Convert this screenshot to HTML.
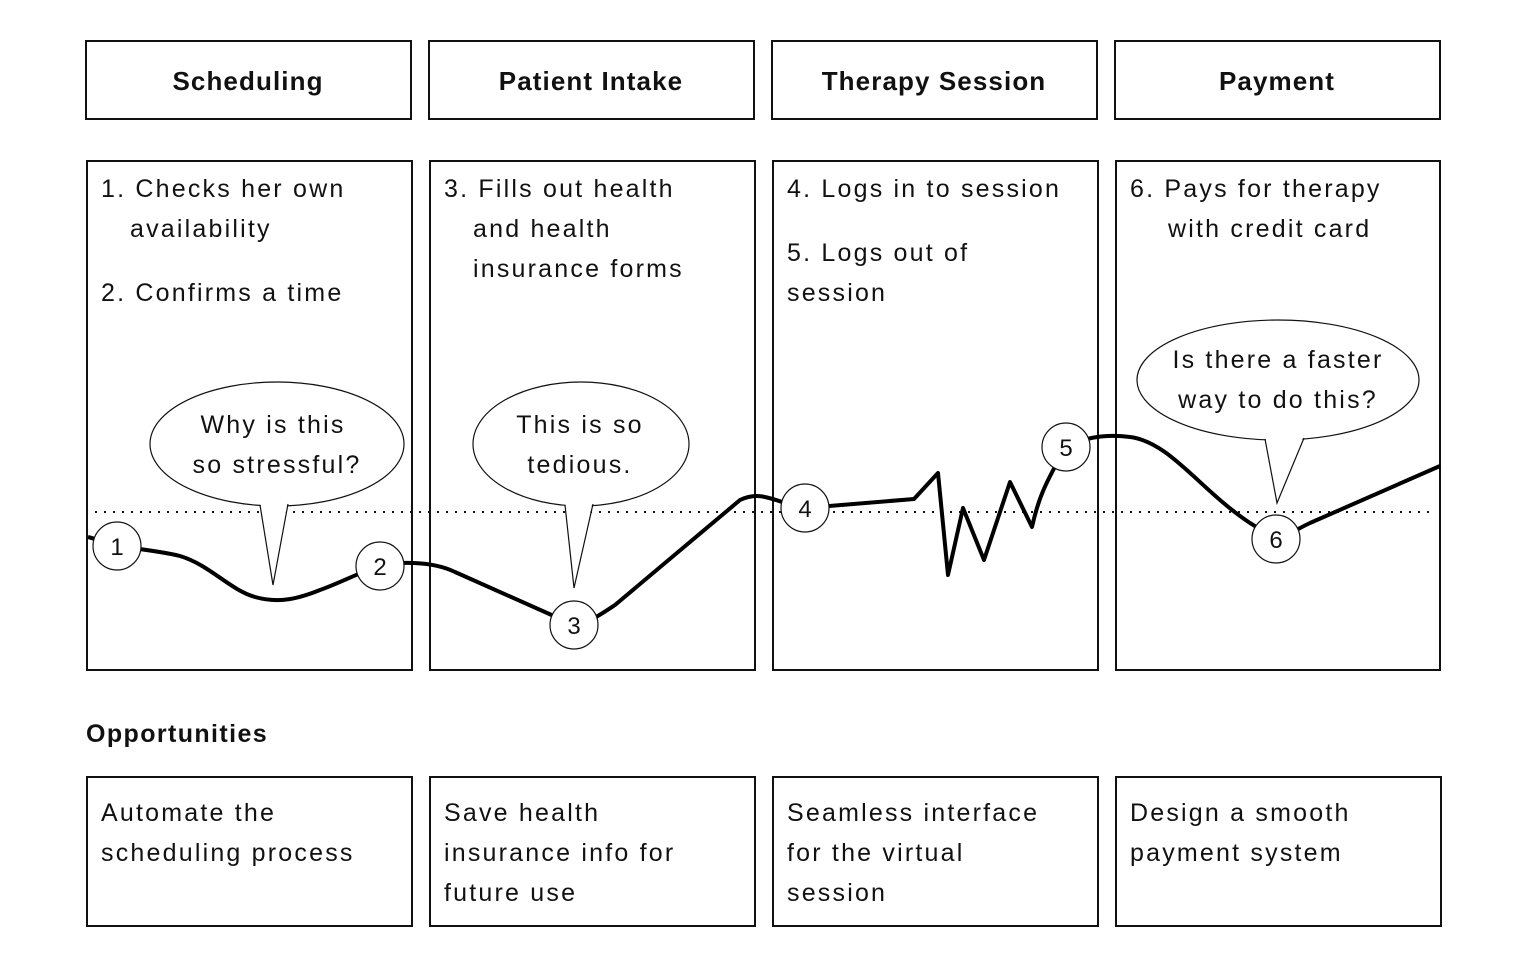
<!DOCTYPE html>
<html><head><style>
body{margin:0;background:#fff;}
svg{display:block;}
text{font-family:"Liberation Sans",sans-serif;fill:#111;}
.t{font-size:25px;letter-spacing:2.2px;}
.h{font-size:26px;font-weight:bold;text-anchor:middle;letter-spacing:1.1px;}
</style></head><body>
<svg width="1526" height="968" viewBox="0 0 1526 968" xmlns="http://www.w3.org/2000/svg">
<g fill="none" stroke="#111" stroke-width="2">
<rect x="86" y="41" width="325" height="78"/><rect x="429" y="41" width="325" height="78"/>
<rect x="772" y="41" width="325" height="78"/><rect x="1115" y="41" width="325" height="78"/>
<rect x="87" y="161" width="325" height="509"/><rect x="430" y="161" width="325" height="509"/>
<rect x="773" y="161" width="325" height="509"/><rect x="1116" y="161" width="324" height="509"/>
<rect x="87" y="777" width="325" height="149"/><rect x="430" y="777" width="325" height="149"/>
<rect x="773" y="777" width="325" height="149"/><rect x="1116" y="777" width="325" height="149"/>
</g>
<text class="h" x="248" y="90">Scheduling</text>
<text class="h" x="591" y="90">Patient Intake</text>
<text class="h" x="934" y="90">Therapy Session</text>
<text class="h" x="1277" y="90">Payment</text>
<g>
<text x="101" y="197" class="t">1. Checks her own</text>
<text x="130" y="237" class="t">availability</text>
<text x="101" y="301" class="t">2. Confirms a time</text>
<text x="444" y="197" class="t">3. Fills out health</text>
<text x="473" y="237" class="t">and health</text>
<text x="473" y="277" class="t">insurance forms</text>
<text x="787" y="197" class="t">4. Logs in to session</text>
<text x="787" y="261" class="t">5. Logs out of</text>
<text x="787" y="301" class="t">session</text>
<text x="1130" y="197" class="t">6. Pays for therapy</text>
<text x="1168" y="237" class="t">with credit card</text>
<text x="101" y="821" class="t">Automate the</text>
<text x="101" y="861" class="t">scheduling process</text>
<text x="444" y="821" class="t">Save health</text>
<text x="444" y="861" class="t">insurance info for</text>
<text x="444" y="901" class="t">future use</text>
<text x="787" y="821" class="t">Seamless interface</text>
<text x="787" y="861" class="t">for the virtual</text>
<text x="787" y="901" class="t">session</text>
<text x="1130" y="821" class="t">Design a smooth</text>
<text x="1130" y="861" class="t">payment system</text>
</g>
<text x="86" y="742" style="font-size:25px;font-weight:bold;letter-spacing:1.4px">Opportunities</text>
<line x1="95" y1="512" x2="1436" y2="512" stroke="#111" stroke-width="2" stroke-dasharray="2,7"/>
<path d="M88,537 C100,540 110,545 117,546 C140,549 165,552 180,556 C210,565 230,590 255,597 C280,604 300,598 320,590 C340,583 360,572 380,566 C395,562 430,560 455,572 L574,625 C590,622 600,615 615,605 L740,500 C755,493 765,496 785,503 L805,508 L914,499 L938,473 L948,575 L963,508 L984,560 L1010,482 L1032,527 C1038,500 1044,485 1066,447 C1080,440 1100,433 1130,437 C1170,442 1200,490 1250,523 L1276,539 C1290,535 1295,530 1310,523 L1440,466" fill="none" stroke="#000" stroke-width="4" stroke-linejoin="round"/>
<g stroke="#111" stroke-width="1.2">
<ellipse cx="277" cy="444" rx="127" ry="62" fill="#fff"/>
<polygon points="260,500 288,500 273,585" fill="#fff" stroke="none"/>
<polyline points="260,505 273,585 288,504" fill="none"/>
<ellipse cx="581" cy="444" rx="108" ry="62" fill="#fff"/>
<polygon points="565,500 593,500 574,588" fill="#fff" stroke="none"/>
<polyline points="565,505 574,588 593,504" fill="none"/>
<ellipse cx="1278" cy="380" rx="141" ry="60" fill="#fff"/>
<polygon points="1265,435 1304,435 1277,503" fill="#fff" stroke="none"/>
<polyline points="1265,439 1277,503 1304,438" fill="none"/>
</g>
<g text-anchor="middle">
<text x="273" y="433" class="t">Why is this</text>
<text x="277" y="473" class="t">so stressful?</text>
<text x="580" y="433" class="t">This is so</text>
<text x="580" y="473" class="t">tedious.</text>
<text x="1278" y="368" class="t">Is there a faster</text>
<text x="1278" y="408" class="t">way to do this?</text>
</g>
<g fill="#fff" stroke="#111" stroke-width="1.2">
<circle cx="117" cy="546" r="24"/><circle cx="380" cy="566" r="24"/>
<circle cx="574" cy="625" r="24"/><circle cx="805" cy="508" r="24"/>
<circle cx="1066" cy="447" r="24"/><circle cx="1276" cy="539" r="24"/>
</g>
<g text-anchor="middle" style="font-size:24px">
<text x="117" y="555" style="font-size:24px">1</text>
<text x="380" y="575" style="font-size:24px">2</text>
<text x="574" y="634" style="font-size:24px">3</text>
<text x="805" y="517" style="font-size:24px">4</text>
<text x="1066" y="456" style="font-size:24px">5</text>
<text x="1276" y="548" style="font-size:24px">6</text>
</g>
</svg>
</body></html>
